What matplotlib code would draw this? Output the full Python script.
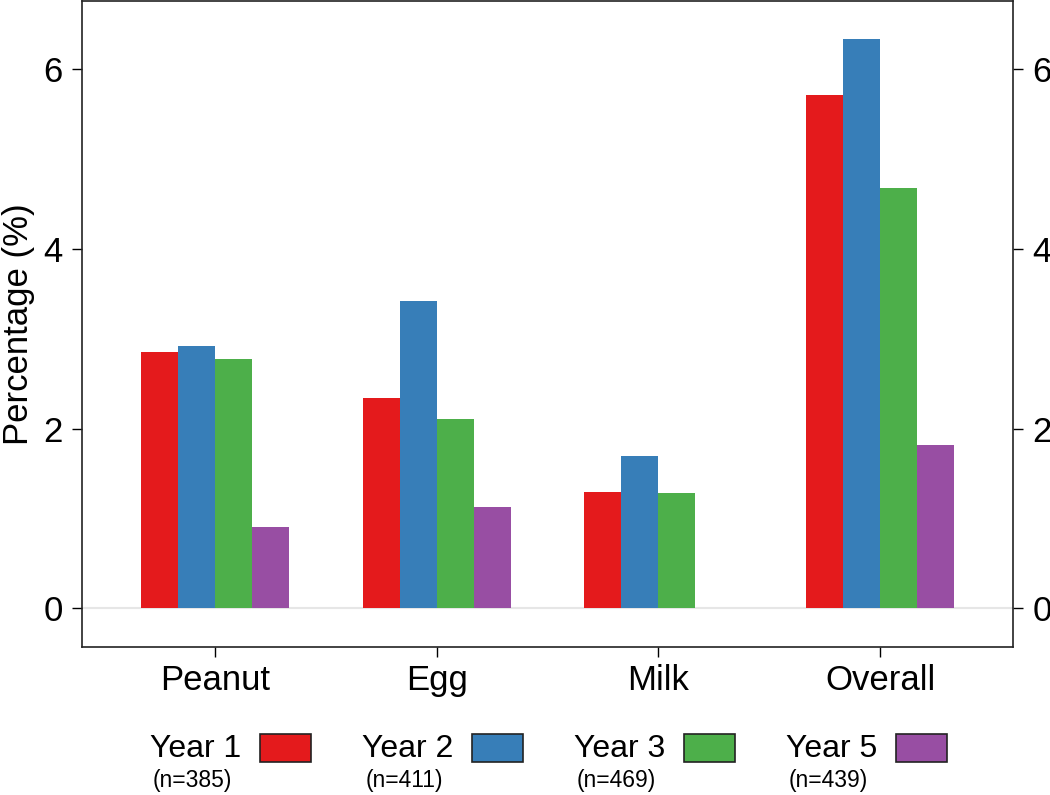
import matplotlib.pyplot as plt
from matplotlib.patches import Rectangle
import numpy as np

plt.rcParams['font.family'] = ['Liberation Sans', 'DejaVu Sans']

categories = ['Peanut', 'Egg', 'Milk', 'Overall']
years = ['Year 1', 'Year 2', 'Year 3', 'Year 5']
sample_sizes = ['(n=385)', '(n=411)', '(n=469)', '(n=439)']
colors = ['#E41A1C', '#377EB8', '#4DAF4A', '#984EA3']

year1 = [2.85, 2.34, 1.30, 5.71]
year2 = [2.92, 3.42, 1.70, 6.34]
year3 = [2.78, 2.11, 1.28, 4.68]
year5 = [0.91, 1.13, 0.0, 1.82]
series = [year1, year2, year3, year5]

fig = plt.figure(figsize=(10.5, 7.95), dpi=100)
ax = fig.add_axes([0.0781, 0.1862, 0.8867, 0.8125])

x = np.arange(len(categories))
width = 1 / 6
for i, (vals, col) in enumerate(zip(series, colors)):
    ax.bar(x + (i - 1.5) * width, vals, width, color=col, linewidth=0, zorder=2)

ax.axhline(0, color='#e6e6e6', linewidth=1.5, zorder=1)

ax.set_xlim(-0.6, 3.6)
ax.set_ylim(-0.43, 6.76)
ax.set_yticks([0, 2, 4, 6])
ax.set_xticks(x)
ax.set_xticklabels(categories)
ax.set_ylabel('Percentage (%)', fontsize=25, labelpad=6)

ax.tick_params(axis='y', which='both', length=7, width=1, labelsize=25, pad=7,
               right=True, labelright=True)
ax.tick_params(axis='x', length=7, width=1, labelsize=25, pad=5)
for sp in ax.spines.values():
    sp.set_linewidth(1.2)
    sp.set_color('#222222')

# legend below the plot
for i in range(len(years)):
    x0 = 150 + i * 212
    fig.text(x0 / 1050, 1 - 749 / 795, years[i], fontsize=23, va='center', ha='left')
    fig.text((x0 + 42) / 1050, 1 - 781 / 795, sample_sizes[i], fontsize=16.5,
             va='center', ha='center')
    fig.patches.append(Rectangle(((x0 + 110) / 1050, 1 - 762 / 795), 51 / 1050, 28 / 795,
                                 transform=fig.transFigure, facecolor=colors[i],
                                 edgecolor='#222222', linewidth=1.2))

fig.savefig('out.png', dpi=100)
